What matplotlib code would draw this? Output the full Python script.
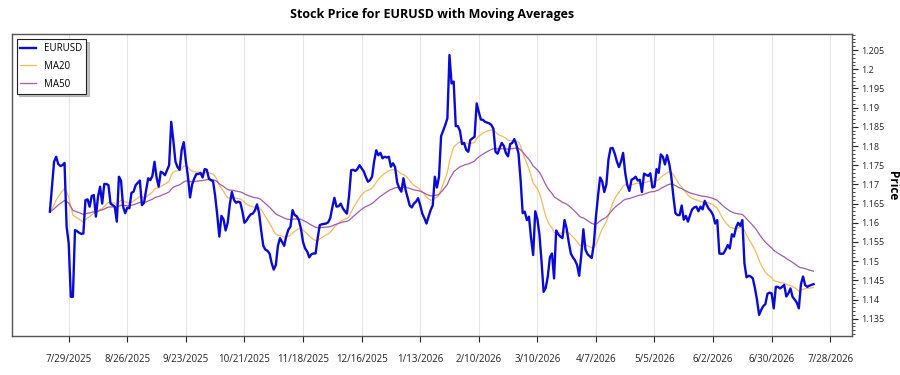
import numpy as np
import pandas as pd
import matplotlib
matplotlib.use("Agg")
import matplotlib.pyplot as plt
import matplotlib.dates as mdates
from matplotlib.ticker import MultipleLocator, FuncFormatter, FixedLocator

plt.rcParams['font.family'] = ['Open Sans', 'DejaVu Sans']

title = "Stock Price for EURUSD with Moving Averages"
start_date = "2025-07-20"
tick_start = "2025-07-29"
tick_end = "2026-07-28"

eurusd = [
    1.1629, 1.1694, 1.1759, 1.1772, 1.1753, 1.1748, 1.1750, 1.1756, 1.1590, 1.1546,
    1.1407, 1.1407, 1.1581, 1.1578, 1.1574, 1.1571, 1.1572, 1.1659, 1.1661, 1.1642,
    1.1670, 1.1672, 1.1616, 1.1668, 1.1694, 1.1650, 1.1701, 1.1701, 1.1698, 1.1650,
    1.1646, 1.1642, 1.1603, 1.1720, 1.1710, 1.1642, 1.1625, 1.1639, 1.1638, 1.1678,
    1.1681, 1.1698, 1.1704, 1.1710, 1.1646, 1.1652, 1.1685, 1.1716, 1.1711, 1.1722,
    1.1759, 1.1718, 1.1694, 1.1733, 1.1730, 1.1724, 1.1737, 1.1750, 1.1863, 1.1815,
    1.1760, 1.1745, 1.1738, 1.1790, 1.1810, 1.1760, 1.1720, 1.1666, 1.1700, 1.1715,
    1.1727, 1.1727, 1.1730, 1.1718, 1.1740, 1.1738, 1.1715, 1.1711, 1.1708, 1.1670,
    1.1620, 1.1564, 1.1618, 1.1609, 1.1580, 1.1600, 1.1648, 1.1680, 1.1660, 1.1652,
    1.1655, 1.1653, 1.1630, 1.1600, 1.1606, 1.1615, 1.1622, 1.1624, 1.1632, 1.1648,
    1.1625, 1.1580, 1.1540, 1.1530, 1.1527, 1.1520, 1.1495, 1.1478, 1.1490, 1.1540,
    1.1560, 1.1550, 1.1540, 1.1565, 1.1582, 1.1590, 1.1633, 1.1620, 1.1617, 1.1607,
    1.1585, 1.1550, 1.1533, 1.1525, 1.1510, 1.1518, 1.1520, 1.1520, 1.1560, 1.1594,
    1.1596, 1.1597, 1.1598, 1.1601, 1.1612, 1.1640, 1.1665, 1.1642, 1.1643, 1.1650,
    1.1638, 1.1630, 1.1624, 1.1670, 1.1737, 1.1738, 1.1735, 1.1740, 1.1750, 1.1742,
    1.1734, 1.1720, 1.1707, 1.1711, 1.1720, 1.1760, 1.1789, 1.1776, 1.1782, 1.1768,
    1.1772, 1.1770, 1.1772, 1.1746, 1.1755, 1.1745, 1.1705, 1.1690, 1.1681, 1.1716,
    1.1686, 1.1666, 1.1645, 1.1640, 1.1650, 1.1655, 1.1664, 1.1646, 1.1624, 1.1612,
    1.1598, 1.1616, 1.1633, 1.1645, 1.1720, 1.1692, 1.1720, 1.1826, 1.1840, 1.1855,
    1.1872, 1.2037, 1.1963, 1.1968, 1.1852, 1.1852, 1.1840, 1.1805, 1.1808, 1.1790,
    1.1785, 1.1816, 1.1820, 1.1824, 1.1911, 1.1889, 1.1869, 1.1868, 1.1863, 1.1861,
    1.1859, 1.1855, 1.1845, 1.1785, 1.1780, 1.1795, 1.1808, 1.1800, 1.1781, 1.1773,
    1.1805, 1.1808, 1.1818, 1.1803, 1.1780, 1.1711, 1.1625, 1.1629, 1.1607, 1.1616,
    1.1560, 1.1516, 1.1630, 1.1610, 1.1570, 1.1500, 1.1420, 1.1430, 1.1460, 1.1510,
    1.1520, 1.1455, 1.1580, 1.1570, 1.1564, 1.1560, 1.1607, 1.1585, 1.1550, 1.1520,
    1.1510, 1.1502, 1.1490, 1.1462, 1.1515, 1.1583, 1.1530, 1.1518, 1.1513, 1.1508,
    1.1545, 1.1615, 1.1670, 1.1718, 1.1708, 1.1680, 1.1700, 1.1765, 1.1794, 1.1795,
    1.1780, 1.1760, 1.1745, 1.1760, 1.1782, 1.1730, 1.1698, 1.1683, 1.1712, 1.1715,
    1.1720, 1.1710, 1.1712, 1.1680, 1.1728, 1.1725, 1.1722, 1.1729, 1.1692, 1.1694,
    1.1740, 1.1730, 1.1778, 1.1772, 1.1752, 1.1776, 1.1755, 1.1722, 1.1670, 1.1625,
    1.1620, 1.1620, 1.1645, 1.1608, 1.1618, 1.1603, 1.1620, 1.1635, 1.1640, 1.1642,
    1.1630, 1.1642, 1.1635, 1.1657, 1.1646, 1.1636, 1.1630, 1.1620, 1.1598, 1.1607,
    1.1520, 1.1519, 1.1520, 1.1530, 1.1542, 1.1533, 1.1570, 1.1564, 1.1588, 1.1600,
    1.1592, 1.1607, 1.1494, 1.1458, 1.1462, 1.1460, 1.1455, 1.1430, 1.1399, 1.1360,
    1.1373, 1.1383, 1.1388, 1.1415, 1.1418, 1.1416, 1.1377, 1.1433, 1.1433, 1.1429,
    1.1433, 1.1438, 1.1408, 1.1416, 1.1429, 1.1407, 1.1400, 1.1392, 1.1377, 1.1440,
    1.1460, 1.1438, 1.1433, 1.1436, 1.1438, 1.1440,
]

dates = pd.date_range(start_date, periods=len(eurusd), freq="D")
price = pd.Series(eurusd, index=dates)
ma20 = price.ewm(span=20, adjust=False).mean()
ma50 = price.ewm(span=50, adjust=False).mean()
tick_dates = pd.date_range(tick_start, tick_end, freq="28D")

fig = plt.figure(figsize=(9, 3.75), dpi=100)
ax = fig.add_axes([0.013, 0.104, 0.9333, 0.8045])

ax.plot(price.index, price.values, color="#0a0ad8", lw=1.7, label="EURUSD", zorder=3)
ax.plot(ma20.index, ma20.values, color="#f6b95a", lw=0.9, label="MA20", zorder=2)
ax.plot(ma50.index, ma50.values, color="#a45aae", lw=0.9, label="MA50", zorder=2)

ax.set_ylim(1.1305, 1.2091)
ax.xaxis.set_major_locator(FixedLocator(mdates.date2num(tick_dates)))
ax.xaxis.set_major_formatter(FuncFormatter(
    lambda v, _: (lambda d: f"{d.month}/{d.day}/{d.year}")(mdates.num2date(v))))
ax.grid(axis="x", color="#e4e4e4", lw=0.8)
ax.set_axisbelow(True)

ax.yaxis.tick_right()
ax.yaxis.set_label_position("right")
ax.yaxis.set_major_locator(MultipleLocator(0.005))
ax.yaxis.set_minor_locator(MultipleLocator(0.001))
ax.yaxis.set_major_formatter(FuncFormatter(lambda v, _: f"{v:.3f}".rstrip("0").rstrip(".")))
ax.tick_params(axis="y", which="major", length=4, pad=3, labelsize=6.5, colors="#222222")
ax.tick_params(axis="y", which="minor", length=2, colors="#222222")
ax.tick_params(axis="x", length=4, pad=9, labelsize=7, colors="#222222")
ax.set_ylabel("Price", rotation=270, fontsize=8.5, fontweight="bold",
              va="center", ha="center")
ax.yaxis.set_label_coords(1.049, 0.5)

for sp in ax.spines.values():
    sp.set_color("#555555")
    sp.set_linewidth(1.0)

ax.set_title(title, fontsize=9, fontweight="bold", pad=12)

leg = ax.legend(loc="upper left", fancybox=False, shadow={"ox": 2, "oy": -2, "color": "#888888"},
                edgecolor="#222222", framealpha=1, fontsize=7, borderaxespad=0.5,
                handlelength=1.6, labelspacing=0.7)
leg.get_frame().set_linewidth(0.8)

fig.savefig("out.png", dpi=100)
